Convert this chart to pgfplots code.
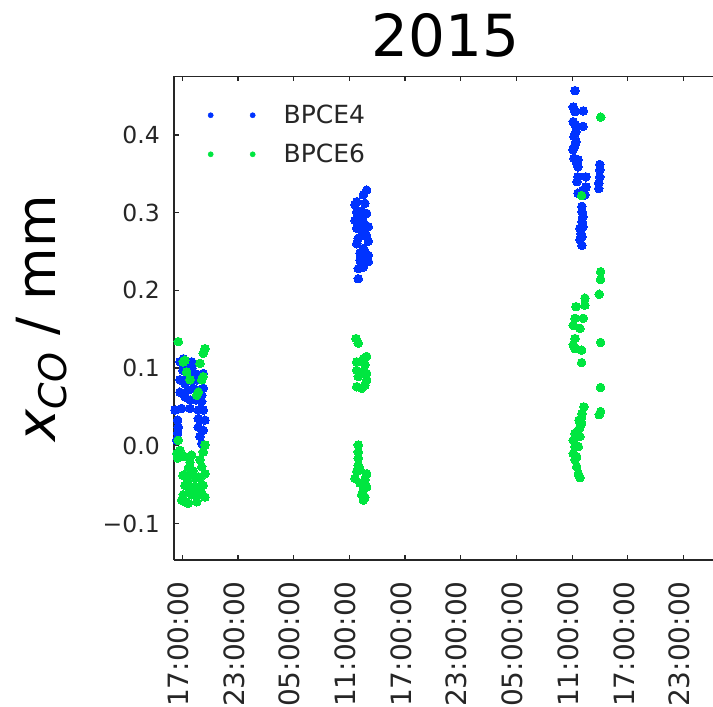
\documentclass[border=0pt]{standalone}
\usepackage{fontspec}
\setmainfont{DejaVu Sans}
\usepackage{pgfplots}
\usepackage{pgfplotstable}
\pgfplotsset{compat=1.18}

\definecolor{bpceblue}{RGB}{0,51,255}
\definecolor{bpcegreen}{RGB}{0,230,64}

% t: hours after 17:00 on the first day, y: x_CO in mm
\pgfplotstableread{
t y
-0.248 0.108
1.010 0.108
0.473 0.102
1.370 0.093
2.258 0.093
-0.248 0.085
0.288 0.080
1.185 0.074
2.258 0.074
-0.248 0.069
0.288 0.063
0.834 0.059
2.091 0.057
-0.063 0.048
0.834 0.048
2.258 0.046
1.721 0.035
2.443 0.033
1.721 0.024
2.258 0.020
1.906 0.012
2.091 0.003
-0.433 0.024
-0.497 0.016
-0.497 0.033
1.721 0.046
2.091 0.065
0.649 0.072
-0.599 0.007
0.076 0.097
1.583 0.085
1.906 0.072
0.510 0.088
1.472 0.059
-0.784 0.046
1.047 0.100
0.122 0.112
19.862 0.329
19.501 0.323
18.790 0.314
19.677 0.312
18.790 0.301
19.862 0.299
18.605 0.290
19.501 0.288
20.038 0.282
18.790 0.280
19.677 0.273
18.956 0.267
20.038 0.263
18.790 0.260
19.501 0.254
19.141 0.248
20.038 0.245
19.141 0.239
20.038 0.237
19.501 0.230
18.956 0.228
18.956 0.215
19.326 0.302
19.141 0.295
19.862 0.270
19.677 0.250
19.326 0.277
18.605 0.310
19.465 0.239
42.302 0.457
42.117 0.436
42.302 0.430
43.199 0.431
42.117 0.417
42.302 0.413
43.162 0.411
42.413 0.404
42.191 0.398
42.413 0.391
42.089 0.381
42.302 0.387
42.191 0.370
42.524 0.363
42.626 0.359
42.626 0.368
42.626 0.346
43.486 0.346
42.524 0.340
43.486 0.333
43.162 0.329
42.626 0.325
43.375 0.323
43.051 0.308
43.051 0.301
43.162 0.295
43.051 0.288
43.162 0.282
42.949 0.273
43.051 0.269
43.051 0.258
42.838 0.265
42.838 0.280
44.974 0.362
44.974 0.355
44.974 0.346
44.863 0.338
44.863 0.331
}\bpcefour

\pgfplotstableread{
t y
-0.433 0.134
-0.950 0.141
2.443 0.125
2.258 0.119
1.906 0.106
0.288 0.110
0.103 0.108
0.473 0.095
0.834 0.085
2.091 0.085
2.258 0.089
1.721 0.069
1.555 0.065
-0.433 0.007
2.443 0.001
2.258 -0.008
-0.248 -0.006
0.288 -0.014
0.834 -0.021
1.906 -0.018
0.649 -0.029
2.091 -0.027
0.473 -0.040
1.721 -0.040
2.443 -0.036
0.288 -0.051
1.370 -0.053
2.258 -0.051
0.103 -0.063
1.010 -0.063
2.091 -0.061
0.288 -0.072
1.555 -0.072
0.649 -0.074
-0.063 -0.070
2.443 -0.066
-0.599 -0.010
-0.497 -0.016
1.010 -0.012
1.148 -0.032
0.834 -0.057
1.694 -0.063
1.370 -0.042
0.612 -0.048
1.906 -0.042
1.906 -0.055
0.076 -0.038
18.716 0.138
18.956 0.132
19.862 0.115
19.501 0.112
18.790 0.108
19.677 0.104
18.790 0.097
19.862 0.093
18.956 0.089
19.862 0.085
18.790 0.076
19.677 0.078
19.326 0.074
19.326 0.095
18.956 0.001
18.956 -0.008
18.956 -0.016
18.956 -0.025
19.141 -0.031
18.790 -0.033
19.862 -0.036
18.605 -0.042
19.677 -0.044
19.141 -0.048
19.862 -0.053
19.501 -0.057
19.326 -0.063
19.677 -0.066
19.501 -0.070
45.085 0.423
43.023 0.322
45.067 0.224
45.067 0.214
44.919 0.195
43.375 0.190
42.413 0.179
43.375 0.181
42.302 0.164
43.199 0.164
42.117 0.155
42.838 0.151
42.302 0.138
42.117 0.130
42.302 0.125
43.023 0.123
43.023 0.107
45.067 0.133
45.067 0.075
45.067 0.044
44.919 0.040
43.264 0.050
43.023 0.037
43.023 0.029
42.663 0.020
42.302 0.016
42.117 0.007
42.302 -0.001
42.117 -0.010
42.302 -0.018
42.487 -0.027
42.663 -0.036
42.838 -0.041
42.838 0.024
42.838 0.012
42.663 -0.001
42.487 -0.014
43.051 0.041
42.737 0.033
}\bpcesix

\begin{document}
\begin{tikzpicture}
\begin{axis}[
  at={(0pt,0pt)}, anchor=south west,
  scale only axis, width=539pt, height=483.5pt,
  xmin=-0.894, xmax=57.17,
  ymin=-0.147, ymax=0.4752,
  axis x line=box, axis y line*=left,
  axis on top,
  axis line style={line width=1.8pt, black!85},
  tick style={line width=1.2pt, black!85},
  major tick length=5pt,
  xtick={0,6,12,18,24,30,36,42,48,54},
  xticklabels={17:00:00,23:00:00,05:00:00,11:00:00,17:00:00,23:00:00,05:00:00,11:00:00,17:00:00,23:00:00},
  ytick={-0.1,0,0.1,0.2,0.3,0.4},
  yticklabels={−0.1,0.0,0.1,0.2,0.3,0.4},
  xticklabel style={font=\fontsize{28}{28}\selectfont, text=black!85, inner sep=0pt, yshift=-21pt, xshift=-4pt, rotate=90, anchor=east},
  yticklabel style={font=\fontsize{23.5}{23.5}\selectfont, text=black!85, inner sep=0pt, xshift=-14pt},
  title={2015},
  title style={font=\fontsize{58}{58}\selectfont, at={(axis description cs:0.504,1)}, anchor=base, yshift=14pt, inner sep=0pt},
  ylabel={\textit{x}\raisebox{-0.2em}{\fontsize{38}{38}\selectfont\textit{CO}}\ /\ mm},
  ylabel style={font=\fontsize{54}{54}\selectfont, at={(axis description cs:-0.22,0.5)}, anchor=base, inner sep=0pt},
  legend style={at={(axis description cs:0.0625,0.941)}, anchor=north west, draw=none, fill=none,
    font=\fontsize{25}{25}\selectfont, text=black!85, row sep=19pt, inner sep=0pt, nodes={inner sep=0pt}},
  legend image code/.code={
    \fill (0pt,0pt) circle (2.6pt);
    \fill (42pt,0pt) circle (2.6pt);
    \path[draw=none] (-2.6pt,0pt) -- (73pt,0pt);
  },
]
\addplot[only marks, mark=*, color=bpceblue, mark size=4.3pt, mark options={line width=0pt}] table[x=t, y=y] {\bpcefour};
\addlegendentry{BPCE4}
\addplot[only marks, mark=*, color=bpcegreen, mark size=4.3pt, mark options={line width=0pt}] table[x=t, y=y] {\bpcesix};
\addlegendentry{BPCE6}
\end{axis}
\pgfresetboundingbox
\useasboundingbox (-174pt,-147pt) rectangle (539pt,560pt);
\end{tikzpicture}
\end{document}
